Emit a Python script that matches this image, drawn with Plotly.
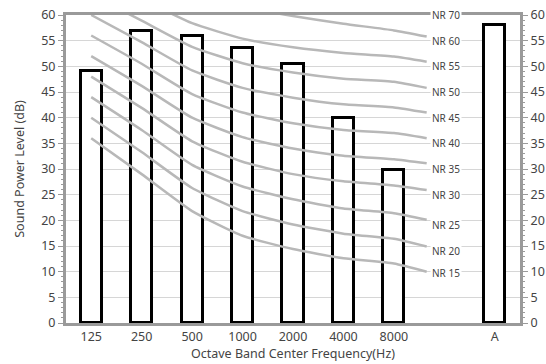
import plotly.graph_objects as go

# Octave band sound power levels
bands = ["125", "250", "500", "1000", "2000", "4000", "8000"]
band_levels = [49.1, 56.8, 55.9, 53.6, 50.5, 40.0, 29.8]
overall_label = "A"
overall_level = 58.1

# NR reference curves: values at each band, then the end point at the label column
nr_names = ["NR 15", "NR 20", "NR 25", "NR 30", "NR 35", "NR 40", "NR 45", "NR 50", "NR 55", "NR 60"]
nr_values = [
    [36, 29.0, 21.8, 17.0, 14.4, 12.6, 11.6, 10.0],
    [40, 33.3, 26.3, 21.8, 19.2, 17.4, 16.4, 14.9],
    [44, 37.6, 30.8, 26.6, 24.1, 22.3, 21.4, 20.1],
    [48, 41.9, 35.4, 31.4, 29.0, 27.6, 26.8, 25.9],
    [52, 46.2, 40.0, 36.2, 34.0, 32.6, 31.9, 31.1],
    [56, 50.5, 44.6, 41.0, 38.9, 37.6, 37.0, 36.0],
    [60, 54.7, 49.2, 45.8, 43.9, 42.6, 42.0, 41.0],
    [64, 58.9, 53.8, 50.6, 48.8, 47.6, 47.0, 45.8],
    [68, 63.1, 58.4, 55.4, 53.7, 52.6, 51.9, 50.9],
    [72, 67.3, 63.5, 61.5, 59.8, 58.3, 57.0, 55.8],
]
# label heights in the NR column
nr_label_names = ["NR 15", "NR 20", "NR 25", "NR 30", "NR 35", "NR 40", "NR 45", "NR 50", "NR 55", "NR 60", "NR 70"]
nr_label_levels = [9.7, 14.1, 19.0, 25, 30, 35, 40, 45, 50, 55, 60]

FONT = "Noto Sans"
AXIS_GREY = "#9a9a9a"
GRID_GREY = "#d6d6d6"
CURVE_GREY = "#b8b8b8"
TEXT = "#444444"

band_x = list(range(len(bands)))
overall_x = len(bands) + 1          # one empty column holds the NR labels
label_x = len(bands) + 0.03
curve_end_x = len(bands) - 0.35
curve_x = band_x + [curve_end_x]

fig = go.Figure()

fig.add_trace(go.Bar(
    x=band_x + [overall_x], y=band_levels + [overall_level],
    width=0.42, marker=dict(color="white", line=dict(color="black", width=3)),
    showlegend=False, hoverinfo="skip",
))

for name, vals in zip(nr_names, nr_values):
    fig.add_trace(go.Scatter(
        x=curve_x, y=vals, mode="lines", name=name,
        line=dict(color=CURVE_GREY, width=2.5, shape="spline", smoothing=0.5),
        showlegend=False, hoverinfo="skip", cliponaxis=True,
    ))

# dummy trace so the right-hand axis is drawn
fig.add_trace(go.Scatter(x=[0], y=[0], yaxis="y2", mode="markers",
                         marker=dict(opacity=0), showlegend=False, hoverinfo="skip"))

for name, lvl in zip(nr_label_names, nr_label_levels):
    fig.add_annotation(
        x=label_x, y=lvl, text=name, showarrow=False,
        font=dict(family=FONT, size=10, color=TEXT),
        bgcolor="white", borderpad=1, xanchor="center", yanchor="middle",
    )

yaxis_common = dict(
    range=[0, 60], dtick=5, showgrid=True, gridcolor=GRID_GREY, gridwidth=1,
    zeroline=False, showline=True, linecolor=AXIS_GREY, linewidth=3,
    ticks="outside", ticklen=5, tickcolor=AXIS_GREY, tickwidth=1,
    minor=dict(dtick=1, ticks="outside", ticklen=2, tickcolor=AXIS_GREY, showgrid=False),
    tickfont=dict(family=FONT, size=12.5, color=TEXT),
    automargin=False,
)

fig.update_layout(
    width=546, height=364,
    margin=dict(l=66, r=26, t=15, b=41),
    paper_bgcolor="white", plot_bgcolor="white",
    bargap=0,
    xaxis=dict(
        range=[-0.5, overall_x + 0.5],
        tickvals=band_x + [overall_x], ticktext=bands + [overall_label],
        showgrid=False, zeroline=False, showline=True, mirror=True,
        linecolor=AXIS_GREY, linewidth=3, ticks="",
        tickfont=dict(family=FONT, size=12.5, color=TEXT),
        automargin=False,
        title=dict(text="Octave Band Center Frequency(Hz)", standoff=4,
                   font=dict(family=FONT, size=12.5, color=TEXT)),
    ),
    yaxis=dict(
        **yaxis_common,
        title=dict(text="Sound Power Level (dB)", standoff=14,
                   font=dict(family=FONT, size=12.5, color=TEXT)),
    ),
    yaxis2=dict(**yaxis_common, overlaying="y", side="right"),
)

fig.write_html("out.html")
